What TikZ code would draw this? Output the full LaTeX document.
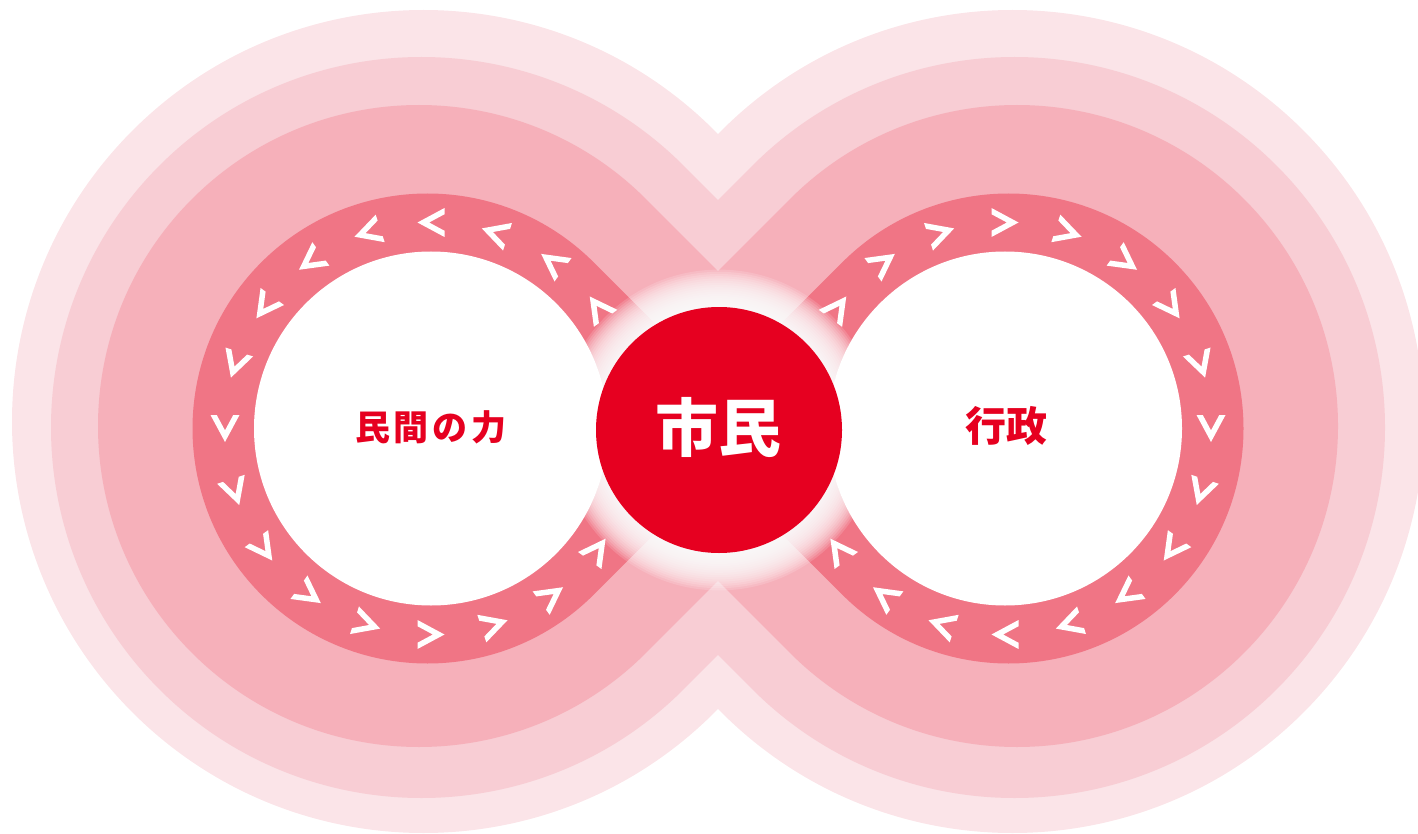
\documentclass[tikz,border=0pt]{standalone}
\usepackage{fontspec}
\newfontfamily\cjk{Noto Sans CJK JP}
\definecolor{cRed}{HTML}{E60020}
\definecolor{cDark}{HTML}{F07585}
\definecolor{cL3}{HTML}{F6B0BA}
\definecolor{cL2}{HTML}{F8CDD4}
\definecolor{cL1}{HTML}{FBE4E8}
% #1 half distance of centres, #2 centre y (image), #3 radius, #4 colour
\newcommand\lobepair[4]{%
  \fill[#4]
   ({718-#1+#3*1.41421},-#2) -- ({718-#1+#3*0.70711},{-#2+#3*0.70711})
     arc[start angle=45,end angle=315,radius=#3] -- cycle
   ({718+#1-#3*1.41421},-#2) -- ({718+#1-#3*0.70711},{-#2-#3*0.70711})
     arc[start angle=-135,end angle=135,radius=#3] -- cycle;}
\tikzset{
  chev/.style={fill=white},
  lbl/.style={inner sep=0pt, text=cRed, font=\cjk\bfseries},
}
\begin{document}
\begin{tikzpicture}[x=1pt,y=1pt]
\useasboundingbox (0,0) rectangle (1418,-834);
\lobepair{294.5}{421.5}{411.5}{cL1}
\lobepair{296.5}{427.5}{370.5}{cL2}
\lobepair{299}{426}{321}{cL3}
\lobepair{290.5}{428.5}{235}{cDark}
% white discs
\fill[white] (431,-428.5) circle (177);
\fill[white] (1005,-428.5) circle (177);
% chevrons
\foreach \a in {36,54,...,324}{
  \fill[chev, shift={(431,-428.5)}, shift={(\a:206)}, rotate={\a+90}]
    (-13.5,14.5) -- (13.5,0) -- (-13.5,-14.5) -- (-13.5,-8.25) -- (1.86,0) -- (-13.5,8.25) -- cycle;
}
\foreach \a in {-144,-126,...,144}{
  \fill[chev, shift={(1005,-428.5)}, shift={(\a:206)}, rotate={\a-90}]
    (-13.5,14.5) -- (13.5,0) -- (-13.5,-14.5) -- (-13.5,-8.25) -- (1.86,0) -- (-13.5,8.25) -- cycle;
}
% glow
\foreach \i in {0,...,17}{
  \fill[white, opacity=0.15] (719,-430) circle ({123+\i*2.2});
}
\fill[cRed] (719,-430) circle (123);
\node[lbl, text=white, font=\cjk\bfseries\fontsize{63}{63}\selectfont] (shimin) at (718,-427) {市民};
\node[lbl, font=\cjk\bfseries\fontsize{35}{35}\selectfont] (minkan) at (431,-427) {民\hspace{4pt}間\hspace{4pt}の\hspace{4pt}力};
\node[lbl, font=\cjk\bfseries\fontsize{41}{41}\selectfont] (gyosei) at (1006.5,-425.5) {行政};
\end{tikzpicture}
\end{document}
